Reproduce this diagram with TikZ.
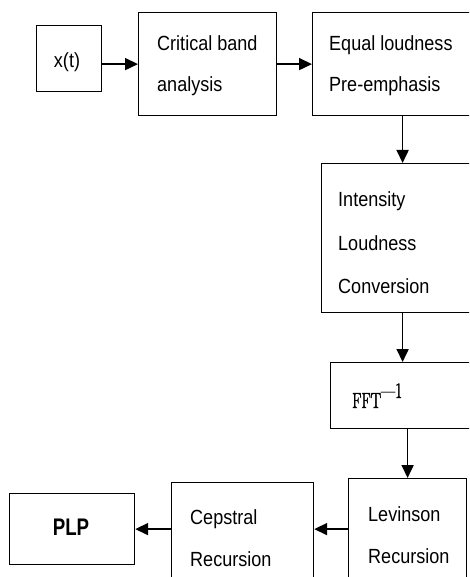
\documentclass[tikz,border=0pt]{standalone}
\usepackage{fontspec}
\setmainfont{Liberation Sans}[FakeStretch=0.88]
\newfontfamily\plpfont{Liberation Sans}[FakeStretch=0.78]
\newfontfamily\fftfont{Latin Modern Roman}[FakeStretch=0.7,FakeBold=1.5]
\usetikzlibrary{arrows.meta,positioning,calc}

\tikzset{
  block/.style={draw,line width=1.2pt,rectangle,inner sep=0pt,anchor=north west},
  lbl/.style={anchor=base west,inner sep=0pt,font=\fontsize{20.5}{22}\selectfont},
  flow/.style={line width=1.7pt,-{Triangle[length=13pt,width=12pt]}},
}

\begin{document}
\begin{tikzpicture}[x=1pt,y=-1pt]
  \clip (0,0) rectangle (469,577);
  % blocks
  \node[block,minimum width=65pt,minimum height=66pt] (xt) at (36,25) {};
  \node[block,minimum width=138pt,minimum height=103pt] (crit) at (138,12) {};
  \node[block,minimum width=180pt,minimum height=103pt] (equal) at (312,12) {};
  \node[block,minimum width=162pt,minimum height=149pt] (intens) at (321,163) {};
  \node[block,minimum width=143pt,minimum height=66pt] (fft) at (330,362) {};
  \node[block,minimum width=118pt,minimum height=120pt] (lev) at (348,478) {};
  \node[block,minimum width=142pt,minimum height=120pt] (ceps) at (171,482) {};
  \node[block,minimum width=125pt,minimum height=71pt] (plp) at (9,493) {};
  % texts
  \node[lbl,anchor=base] (xtA) at (67,68) {x(t)};
  \node[lbl] (critA) at (157,51) {Critical band};
  \node[lbl] (critB) at (157,92) {analysis};
  \node[lbl] (equalA) at (329,51) {Equal loudness};
  \node[lbl] (equalB) at (329,92) {Pre-emphasis};
  \node[lbl] (intensA) at (338,206) {Intensity};
  \node[lbl] (intensB) at (338,250) {Loudness};
  \node[lbl] (intensC) at (338,293) {Conversion};
  \node[lbl,font=\fontsize{22}{24}\fftfont] (fftA) at (352,408) {FFT\raisebox{10pt}{—1}};
  \node[lbl] (levA) at (368,521) {Levinson};
  \node[lbl] (levB) at (368,563) {Recursion};
  \node[lbl] (cepsA) at (190,524) {Cepstral};
  \node[lbl] (cepsB) at (190,566) {Recursion};
  \node[lbl,anchor=base,font=\fontsize{24}{26}\plpfont\bfseries] (plpA) at (71,535) {PLP};
  % arrows
  \draw[flow] (xt.east |- crit.west) -- (crit.west);
  \draw[flow] (crit) -- (equal);
  \draw[flow] (equal) -- (intens);
  \draw[flow] (intens.south) -- (intens.south |- fft.north);
  \draw[flow] (fft.south -| lev.north) -- (lev.north);
  \draw[flow] (lev.west |- plp.east) -- (ceps.east |- plp.east);
  \draw[flow] (ceps.west |- plp.east) -- (plp.east);
\end{tikzpicture}
\end{document}
